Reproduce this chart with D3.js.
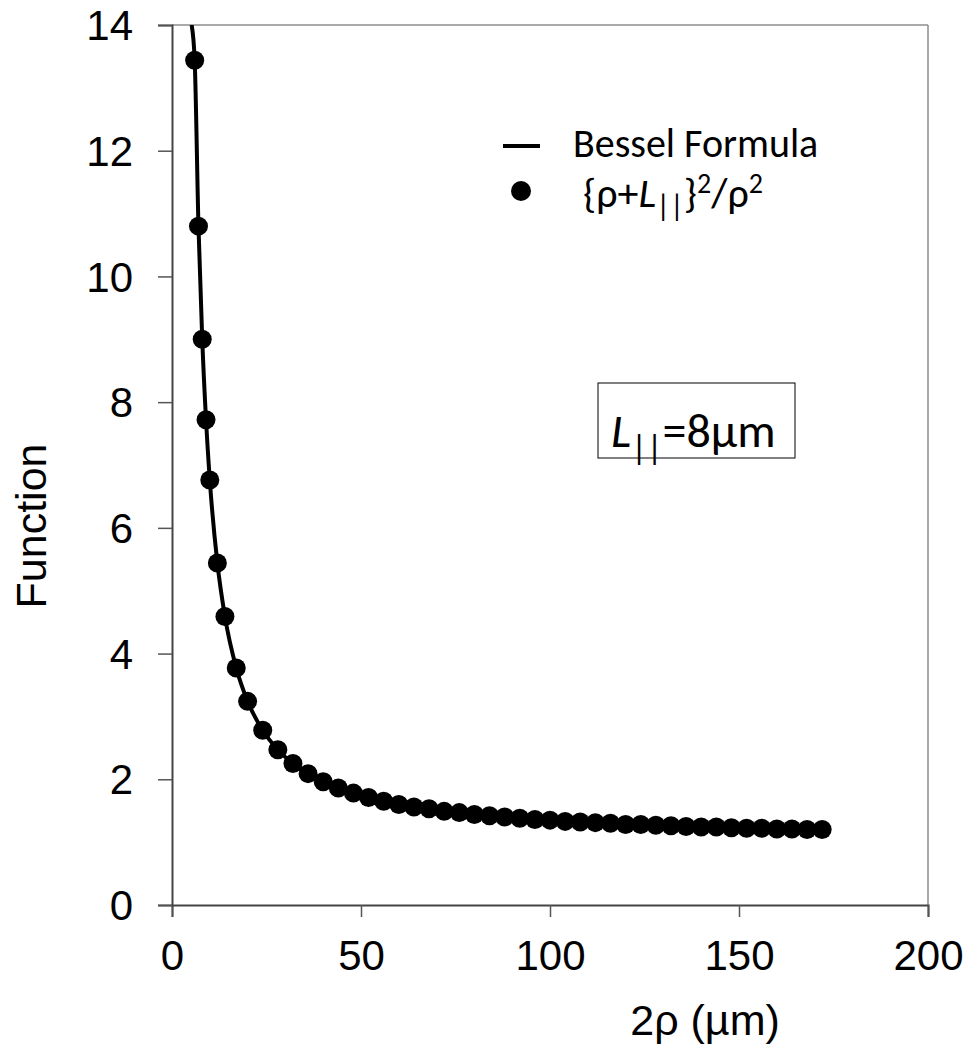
<!DOCTYPE html>
<html>
<head>
<meta charset="utf-8">
<title>Function vs 2rho</title>
<style>
  body { margin: 0; background: #fff; }
  svg { display: block; }
</style>
</head>
<body>
<script src="https://d3js.org/d3.v7.min.js"></script>
<script>
// dots: {rho+L}^2/rho^2
const dotX = [6, 7, 8, 9, 10, 12, 14, 17, 20, 24, 28, 32, 36, 40, 44, 48, 52, 56, 60, 64, 68,
  72, 76, 80, 84, 88, 92, 96, 100, 104, 108, 112, 116, 120, 124, 128, 132, 136, 140, 144,
  148, 152, 156, 160, 164, 168, 172];
const dotY = [13.44, 10.80, 9.00, 7.72, 6.76, 5.44, 4.59, 3.77, 3.24, 2.78, 2.47, 2.25, 2.09,
  1.96, 1.86, 1.78, 1.71, 1.65, 1.60, 1.56, 1.53, 1.49, 1.47, 1.44, 1.42, 1.40, 1.38, 1.36,
  1.35, 1.33, 1.32, 1.31, 1.30, 1.28, 1.28, 1.27, 1.26, 1.25, 1.24, 1.24, 1.23, 1.22, 1.22,
  1.21, 1.21, 1.20, 1.20];

// Bessel formula line
const lineX = [5.2, 6, 7, 8, 9, 10, 12, 14, 17, 20, 24, 28, 32, 40, 48, 60, 80, 100, 120, 140, 160, 172];
const lineY = [14.0, 13.44, 10.80, 9.00, 7.72, 6.76, 5.44, 4.59, 3.77, 3.24, 2.78, 2.47, 2.25,
  1.96, 1.78, 1.60, 1.44, 1.35, 1.28, 1.24, 1.21, 1.20];

const xTicks = [0, 50, 100, 150, 200];
const yTicks = [0, 2, 4, 6, 8, 10, 12, 14];

const width = 972, height = 1059;
const plotL = 172, plotR = 928, plotT = 25, plotB = 905;

const svg = d3.select('body').append('svg')
  .attr('width', width).attr('height', height);

const x = d3.scaleLinear().domain([0, 200]).range([plotL, plotR]);
const y = d3.scaleLinear().domain([0, 14]).range([plotB, plotT]);

// plot frame (top + right)
svg.append('line').attr('x1', plotL).attr('x2', plotR).attr('y1', plotT).attr('y2', plotT)
  .attr('stroke', '#8c8c8c').attr('stroke-width', 1.5);
svg.append('line').attr('x1', plotR).attr('x2', plotR).attr('y1', plotT).attr('y2', plotB)
  .attr('stroke', '#8c8c8c').attr('stroke-width', 1.5);

// axes
const xAxis = svg.append('g').attr('transform', `translate(0,${plotB})`)
  .call(d3.axisBottom(x).tickValues(xTicks).tickSize(12).tickPadding(23));
const yAxis = svg.append('g').attr('transform', `translate(${plotL},0)`)
  .call(d3.axisLeft(y).tickValues(yTicks).tickSize(14).tickPadding(25));

[xAxis, yAxis].forEach(g => {
  g.select('.domain').attr('stroke', '#444').attr('stroke-width', 2);
  g.selectAll('.tick line').attr('stroke', '#555').attr('stroke-width', 1.5);
  g.selectAll('.tick text').attr('fill', '#000')
    .style('font-family', 'Liberation Sans, Arial, sans-serif').style('font-size', '42px');
});
xAxis.selectAll('.tick text').attr('dy', '0.71em');
yAxis.selectAll('.tick text').attr('dy', '0.35em');

// clip
svg.append('clipPath').attr('id', 'plot')
  .append('rect').attr('x', plotL).attr('y', plotT).attr('width', plotR - plotL).attr('height', plotB - plotT);

const lineData = lineX.map((d, i) => [d, lineY[i]]);
const line = d3.line().x(d => x(d[0])).y(d => y(d[1])).curve(d3.curveMonotoneX);

svg.append('path').datum(lineData)
  .attr('clip-path', 'url(#plot)')
  .attr('d', line).attr('fill', 'none')
  .attr('stroke', '#000').attr('stroke-width', 4);

const dots = dotX.map((d, i) => [d, dotY[i]]);
svg.append('g').selectAll('circle').data(dots).enter().append('circle')
  .attr('cx', d => x(d[0])).attr('cy', d => y(d[1])).attr('r', 9.5).attr('fill', '#000');

// axis titles
svg.append('text').attr('x', 705).attr('y', 1035).attr('text-anchor', 'middle')
  .style('font-family', 'Liberation Sans, Arial, sans-serif').style('font-size', '43px')
  .text('2ρ (µm)');
svg.append('text').attr('transform', 'translate(46,526) rotate(-90)').attr('text-anchor', 'middle')
  .style('font-family', 'Liberation Sans, Arial, sans-serif').style('font-size', '43px')
  .text('Function');

// legend
const lg = svg.append('g').style('font-family', 'Carlito, Lato, "Open Sans", sans-serif')
  .style('font-size', '40px');
lg.append('line').attr('x1', 503).attr('x2', 540).attr('y1', 146).attr('y2', 146)
  .attr('stroke', '#000').attr('stroke-width', 4);
lg.append('text').attr('x', 573).attr('y', 157).text('Bessel Formula');
lg.append('circle').attr('cx', 521).attr('cy', 191).attr('r', 10).attr('fill', '#000');
const t2 = lg.append('text').attr('x', 583).attr('y', 207).style('font-size', '42px');
t2.append('tspan').text('{ρ+');
t2.append('tspan').style('font-style', 'italic').text('L');
t2.append('tspan').attr('dy', 9).style('font-size', '30px').text('||');
t2.append('tspan').attr('dy', -9).text('}');
t2.append('tspan').attr('dy', -14).style('font-size', '28px').text('2');
t2.append('tspan').attr('dy', 14).text('/ρ');
t2.append('tspan').attr('dy', -14).style('font-size', '28px').text('2');

// annotation box
svg.append('rect').attr('x', 598).attr('y', 383).attr('width', 197).attr('height', 75)
  .attr('fill', '#fff').attr('stroke', '#000').attr('stroke-width', 1);
const t3 = svg.append('text').attr('x', 611).attr('y', 447)
  .style('font-family', 'Carlito, Lato, "Open Sans", sans-serif').style('font-size', '48px');
t3.append('tspan').style('font-style', 'italic').text('L');
t3.append('tspan').attr('dy', 12).style('font-size', '34px').text('||');
t3.append('tspan').attr('dy', -12).text('=8µm');
</script>
</body>
</html>
